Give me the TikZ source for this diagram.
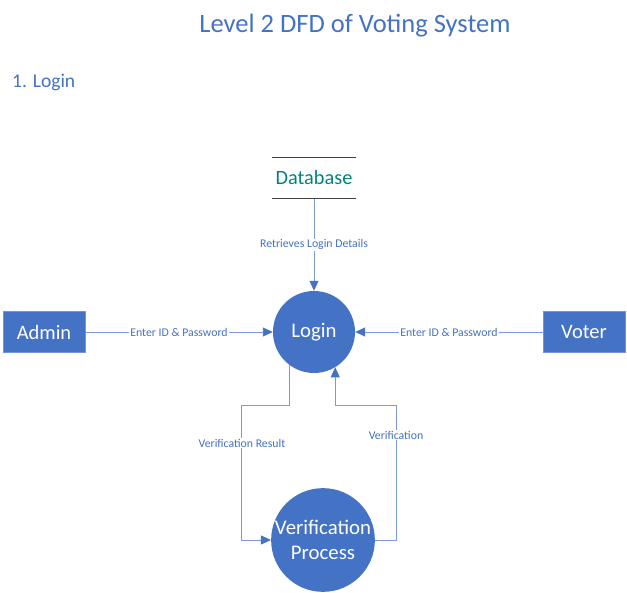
\documentclass[tikz,border=0pt]{standalone}
\usepackage{fontspec}
\setmainfont{Carlito}
\usetikzlibrary{arrows.meta,positioning}
\definecolor{dfdblue}{HTML}{4472C4}
\definecolor{flowc}{HTML}{7C9BD6}
\definecolor{storec}{HTML}{00827F}
\definecolor{storeline}{HTML}{404040}

\begin{document}
\begin{tikzpicture}[x=1pt,y=-1pt,
    entity/.style={fill=dfdblue,draw=dfdblue!75!white,minimum width=82pt,minimum height=41pt,text=white,font=\fontsize{20.5}{24}\selectfont},
    proc/.style={circle,fill=dfdblue,text=white,inner sep=0pt,align=center,font=\fontsize{20.8}{25}\selectfont},
    flow/.style={draw=flowc,line width=0.9pt,-{Triangle[length=10pt,width=9pt,color=dfdblue]}},
    lbl/.style={fill=white,text=dfdblue,inner sep=1pt,font=\fontsize{11.8}{13}\selectfont}]
        \useasboundingbox (0,0) rectangle (627,593);
        \node[text=dfdblue,font=\fontsize{26.5}{30}\selectfont] (title) at (355,26) {Level 2 DFD of Voting System};
        \node[anchor=west,text=dfdblue,font=\fontsize{19.5}{22}\selectfont,inner sep=0pt] (part) at (12,82) {1. Login};
        % store, entities, processes
        \node[minimum width=83pt,minimum height=41pt,text=storec,font=\fontsize{20.3}{24}\selectfont] (db) at (314,178) {Database};
        \draw[storeline,line width=1pt] (db.north west) -- (db.north east);
        \draw[storeline,line width=1pt] (db.south west) -- (db.south east);
        \node[entity] (admin) at (44,332) {Admin};
        \node[entity] (voter) at (584,332) {Voter};
        \node[proc,minimum size=82pt] (login) at (314,332) {Login};
        \node[proc,minimum size=100pt] (vproc) at (323,540) {Verification\\Process};
        \coordinate (rbend) at (241,405);
        \coordinate (vbend) at (396,405);
        % flows
        \draw[flow] (db) -- node[lbl]{Retrieves Login Details} (login);
        \draw[flow] (admin) -- node[lbl]{Enter ID \& Password} (login);
        \draw[flow] (voter) -- node[lbl]{Enter ID \& Password} (login);
        \draw[flow] (login.234) |- (rbend) |- (vproc.west);
        \draw[flow] (vproc.east) -| (vbend) -| (login.301);
        \node[lbl] (rlbl) at (242,443) {Verification Result};
        \node[lbl] (vlbl) at (396,435) {Verification};
      \end{tikzpicture}
\end{document}
